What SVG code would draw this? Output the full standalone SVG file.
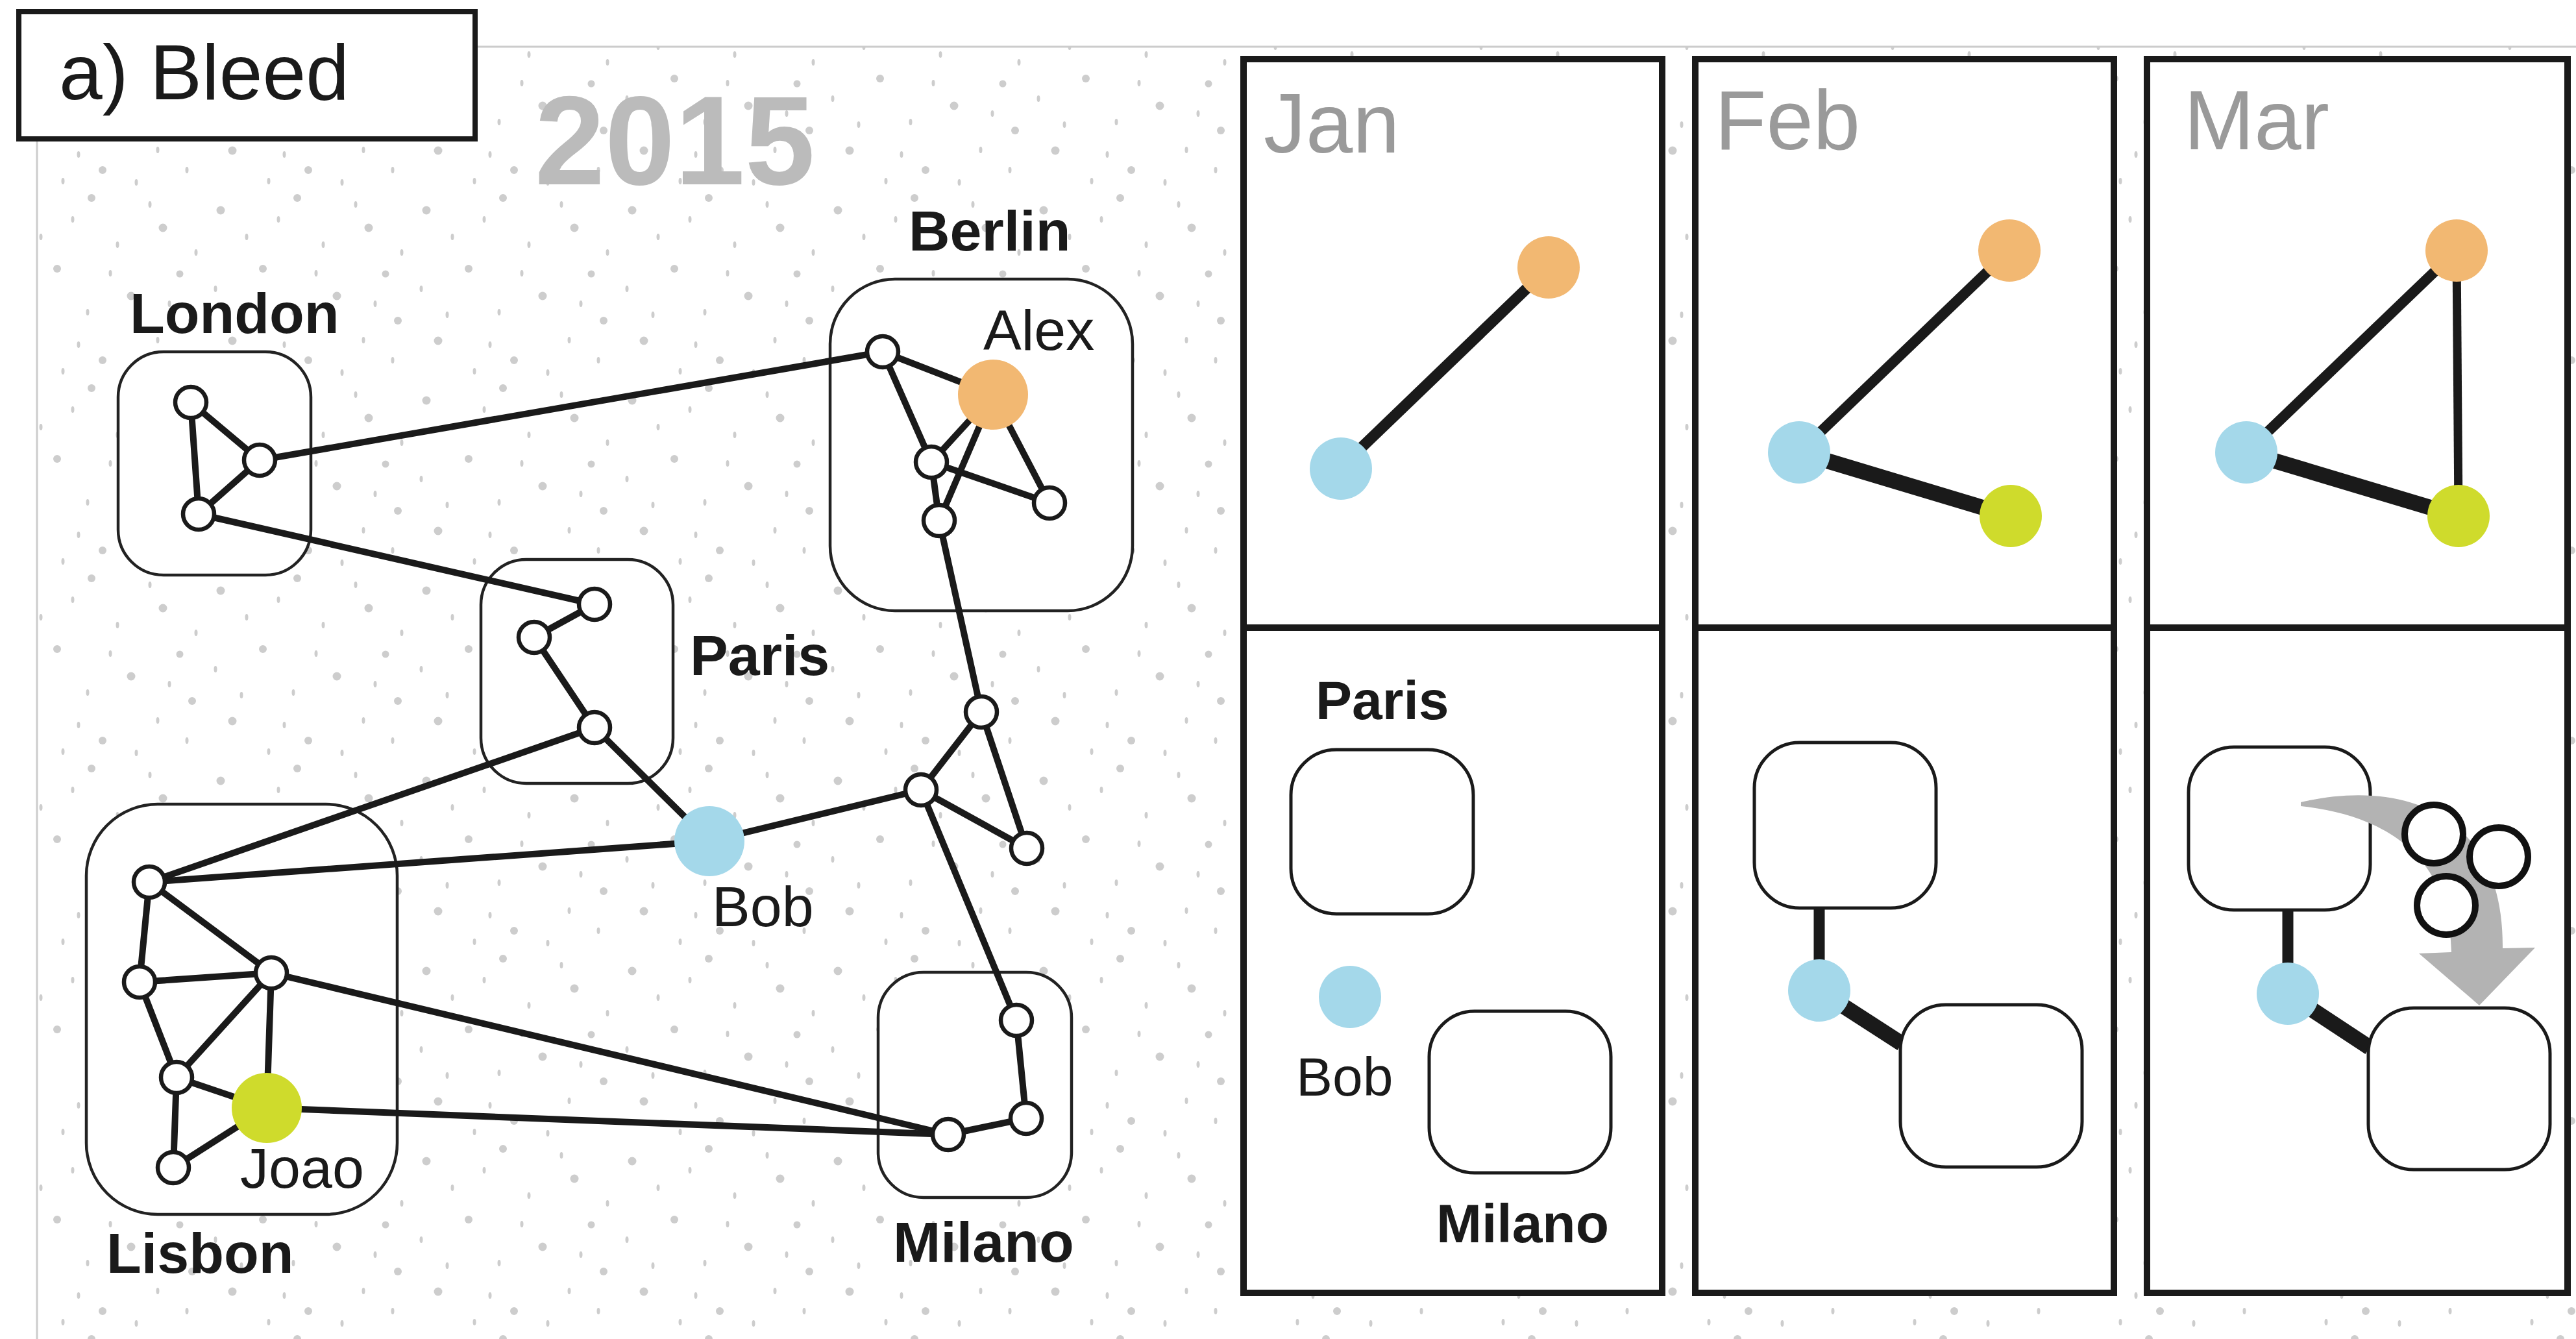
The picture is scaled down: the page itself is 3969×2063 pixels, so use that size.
<svg xmlns="http://www.w3.org/2000/svg" width="3969" height="2063" viewBox="0 0 3969 2063">
<defs>
<pattern id="dots" x="0" y="0" width="317" height="293" patternUnits="userSpaceOnUse">
<circle cx="23" cy="31" r="6.5"/><circle cx="141" cy="12" r="6"/><circle cx="251" cy="58" r="6.5"/>
<circle cx="88" cy="121" r="6"/><circle cx="202" cy="163" r="6.5"/><circle cx="296" cy="201" r="6"/>
<circle cx="41" cy="232" r="6.5"/><circle cx="158" cy="262" r="6"/><circle cx="277" cy="129" r="5.5"/>
<ellipse cx="63" cy="72" rx="2.5" ry="5"/><ellipse cx="181" cy="84" rx="2.5" ry="5"/><ellipse cx="112" cy="45" rx="2.5" ry="5"/>
<ellipse cx="231" cy="22" rx="2.5" ry="5"/><ellipse cx="302" cy="96" rx="2.5" ry="5"/><ellipse cx="15" cy="152" rx="2.5" ry="5"/>
<ellipse cx="135" cy="188" rx="2.5" ry="5"/><ellipse cx="243" cy="231" rx="2.5" ry="5"/><ellipse cx="97" cy="279" rx="2.5" ry="5"/>
<ellipse cx="210" cy="281" rx="2.5" ry="5"/><ellipse cx="55" cy="192" rx="2.5" ry="5"/><ellipse cx="170" cy="128" rx="2.5" ry="5"/>
<ellipse cx="288" cy="262" rx="2.5" ry="5"/><ellipse cx="121" cy="238" rx="2.5" ry="5"/><ellipse cx="261" cy="175" rx="2.5" ry="5"/>
</pattern>
<style>
#dots circle, #dots ellipse { fill: #cdcdcd; }
.lbl { font-family: "Liberation Sans", Arial, sans-serif; fill: #1a1a1a; }
.city { font-weight: bold; font-size: 88px; }
.name { font-size: 88px; }
.month { font-size: 130px; fill: #9a9a9a; }
.plbl { font-size: 84px; }
.cluster { fill: #ffffff; stroke: #222222; stroke-width: 4.5; }
.edge { stroke: #1a1a1a; stroke-width: 10; stroke-linecap: round; fill: none; }
.node { fill: #ffffff; stroke: #1a1a1a; stroke-width: 6.5; }
.alex { fill: #f2b872; }
.bob { fill: #a4d8ea; }
.joao { fill: #cfdb2c; }
.panel { fill: #ffffff; stroke: #1a1a1a; stroke-width: 10; }
.pedge { stroke: #1a1a1a; fill: none; }
.pbox { fill: #ffffff; stroke: #1a1a1a; stroke-width: 5; }
.ring { fill: #ffffff; stroke: #111111; stroke-width: 10; }
</style>
</defs>
<rect x="0" y="0" width="3969" height="2063" fill="#ffffff"/>
<rect x="57" y="72" width="3920" height="2000" fill="url(#dots)" stroke="#cccccc" stroke-width="3"/>

<g id="title">
<rect x="29" y="18" width="703" height="196" fill="#ffffff" stroke="#1a1a1a" stroke-width="8"/>
<text class="lbl" x="91" y="153" font-size="120">a) Bleed</text>
</g>
<text class="lbl" x="824" y="284" font-size="194" font-weight="bold" style="fill:#bbbbbb">2015</text>

<g id="clusters">
<g id="london"><rect class="cluster" x="182" y="542" width="297" height="344" rx="70"/><text class="lbl city" x="200" y="513">London</text></g>
<g id="berlin"><rect class="cluster" x="1279" y="430" width="466" height="511" rx="100"/><text class="lbl city" x="1400" y="386">Berlin</text></g>
<g id="paris"><rect class="cluster" x="741" y="862" width="296" height="345" rx="70"/><text class="lbl city" x="1063" y="1040">Paris</text></g>
<g id="lisbon"><rect class="cluster" x="133" y="1239" width="479" height="632" rx="110"/><text class="lbl city" x="164" y="1961">Lisbon</text></g>
<g id="milano"><rect class="cluster" x="1353" y="1498" width="298" height="347" rx="70"/><text class="lbl city" x="1376" y="1944">Milano</text></g>
</g>

<g id="connectors">
<line class="edge" x1="294" y1="620" x2="400" y2="709"/>
<line class="edge" x1="294" y1="620" x2="306" y2="792"/>
<line class="edge" x1="400" y1="709" x2="306" y2="792"/>
<line class="edge" x1="400" y1="709" x2="1360" y2="542"/>
<line class="edge" x1="306" y1="792" x2="916" y2="931"/>
<line class="edge" x1="1360" y1="542" x2="1530" y2="608"/>
<line class="edge" x1="1360" y1="542" x2="1435" y2="712"/>
<line class="edge" x1="1530" y1="608" x2="1435" y2="712"/>
<line class="edge" x1="1530" y1="608" x2="1447" y2="802"/>
<line class="edge" x1="1530" y1="608" x2="1617" y2="775"/>
<line class="edge" x1="1435" y1="712" x2="1617" y2="775"/>
<line class="edge" x1="1435" y1="712" x2="1447" y2="802"/>
<line class="edge" x1="1447" y1="802" x2="1512" y2="1097"/>
<line class="edge" x1="916" y1="931" x2="823" y2="982"/>
<line class="edge" x1="823" y1="982" x2="916" y2="1121"/>
<line class="edge" x1="916" y1="1121" x2="1093" y2="1296"/>
<line class="edge" x1="916" y1="1121" x2="230" y2="1359"/>
<line class="edge" x1="230" y1="1359" x2="1093" y2="1296"/>
<line class="edge" x1="1093" y1="1296" x2="1419" y2="1217"/>
<line class="edge" x1="1512" y1="1097" x2="1419" y2="1217"/>
<line class="edge" x1="1512" y1="1097" x2="1582" y2="1307"/>
<line class="edge" x1="1419" y1="1217" x2="1582" y2="1307"/>
<line class="edge" x1="1419" y1="1217" x2="1566" y2="1572"/>
<line class="edge" x1="1566" y1="1572" x2="1581" y2="1723"/>
<line class="edge" x1="1581" y1="1723" x2="1461" y2="1748"/>
<line class="edge" x1="1461" y1="1748" x2="418" y2="1499"/>
<line class="edge" x1="1461" y1="1748" x2="411" y2="1707"/>
<line class="edge" x1="230" y1="1359" x2="215" y2="1513"/>
<line class="edge" x1="230" y1="1359" x2="418" y2="1499"/>
<line class="edge" x1="215" y1="1513" x2="418" y2="1499"/>
<line class="edge" x1="215" y1="1513" x2="272" y2="1660"/>
<line class="edge" x1="418" y1="1499" x2="272" y2="1660"/>
<line class="edge" x1="418" y1="1499" x2="411" y2="1707"/>
<line class="edge" x1="272" y1="1660" x2="411" y2="1707"/>
<line class="edge" x1="272" y1="1660" x2="267" y2="1799"/>
<line class="edge" x1="267" y1="1799" x2="411" y2="1707"/>
</g>

<g id="nodes">
<g id="n-london-1"><circle class="node" cx="294" cy="620" r="24"/></g>
<g id="n-london-2"><circle class="node" cx="400" cy="709" r="24"/></g>
<g id="n-london-3"><circle class="node" cx="306" cy="792" r="24"/></g>
<g id="n-berlin-1"><circle class="node" cx="1360" cy="542" r="24"/></g>
<g id="n-alex"><circle class="alex" cx="1530" cy="608" r="54"/><text class="lbl name" x="1515" y="539">Alex</text></g>
<g id="n-berlin-2"><circle class="node" cx="1435" cy="712" r="24"/></g>
<g id="n-berlin-3"><circle class="node" cx="1617" cy="775" r="24"/></g>
<g id="n-berlin-4"><circle class="node" cx="1447" cy="802" r="24"/></g>
<g id="n-paris-1"><circle class="node" cx="916" cy="931" r="24"/></g>
<g id="n-paris-2"><circle class="node" cx="823" cy="982" r="24"/></g>
<g id="n-paris-3"><circle class="node" cx="916" cy="1121" r="24"/></g>
<g id="n-bob"><circle class="bob" cx="1093" cy="1296" r="54"/><text class="lbl name" x="1097" y="1427">Bob</text></g>
<g id="n-mid-1"><circle class="node" cx="1512" cy="1097" r="24"/></g>
<g id="n-mid-2"><circle class="node" cx="1419" cy="1217" r="24"/></g>
<g id="n-mid-3"><circle class="node" cx="1582" cy="1307" r="24"/></g>
<g id="n-milano-1"><circle class="node" cx="1566" cy="1572" r="24"/></g>
<g id="n-milano-2"><circle class="node" cx="1581" cy="1723" r="24"/></g>
<g id="n-milano-3"><circle class="node" cx="1461" cy="1748" r="24"/></g>
<g id="n-lisbon-1"><circle class="node" cx="230" cy="1359" r="24"/></g>
<g id="n-lisbon-2"><circle class="node" cx="215" cy="1513" r="24"/></g>
<g id="n-lisbon-3"><circle class="node" cx="418" cy="1499" r="24"/></g>
<g id="n-lisbon-4"><circle class="node" cx="272" cy="1660" r="24"/></g>
<g id="n-joao"><circle class="joao" cx="411" cy="1707" r="54"/><text class="lbl name" x="370" y="1830">Joao</text></g>
<g id="n-lisbon-5"><circle class="node" cx="267" cy="1799" r="24"/></g>
</g>

<g id="panel-jan">
<rect class="panel" x="1916" y="91" width="645" height="1901"/>
<line x1="1916" y1="967" x2="2561" y2="967" stroke="#1a1a1a" stroke-width="10"/>
<text class="lbl month" x="1947" y="235">Jan</text>
<line class="pedge" x1="2065" y1="721" x2="2386" y2="412" stroke-width="17"/>
<circle class="alex" cx="2386" cy="412" r="48"/>
<circle class="bob" cx="2066" cy="722" r="48"/>
<text class="lbl city plbl" x="2027" y="1108">Paris</text>
<rect class="pbox" x="1989" y="1155" width="281" height="253" rx="70"/>
<circle class="bob" cx="2080" cy="1536" r="48"/>
<text class="lbl name plbl" x="1997" y="1688">Bob</text>
<rect class="pbox" x="2202" y="1558" width="280" height="249" rx="70"/>
<text class="lbl city plbl" x="2213" y="1914">Milano</text>
</g>

<g id="panel-feb">
<rect class="panel" x="2612" y="91" width="645" height="1901"/>
<line x1="2612" y1="967" x2="3257" y2="967" stroke="#1a1a1a" stroke-width="10"/>
<text class="lbl month" x="2642" y="230">Feb</text>
<line class="pedge" x1="2772" y1="697" x2="3096" y2="386" stroke-width="16"/>
<line class="pedge" x1="2772" y1="697" x2="3098" y2="795" stroke-width="24"/>
<circle class="alex" cx="3096" cy="386" r="48"/>
<circle class="bob" cx="2772" cy="697" r="48"/>
<circle class="joao" cx="3098" cy="795" r="48"/>
<line class="pedge" x1="2803" y1="1399" x2="2803" y2="1526" stroke-width="17"/>
<line class="pedge" x1="2803" y1="1526" x2="2930" y2="1608" stroke-width="24"/>
<rect class="pbox" x="2703" y="1144" width="280" height="255" rx="70"/>
<rect class="pbox" x="2928" y="1548" width="280" height="250" rx="70"/>
<circle class="bob" cx="2803" cy="1526" r="48"/>
</g>

<g id="panel-mar">
<rect class="panel" x="3308" y="91" width="648" height="1901"/>
<line x1="3308" y1="967" x2="3956" y2="967" stroke="#1a1a1a" stroke-width="10"/>
<text class="lbl month" x="3365" y="230">Mar</text>
<line class="pedge" x1="3461" y1="697" x2="3785" y2="386" stroke-width="16"/>
<line class="pedge" x1="3461" y1="697" x2="3788" y2="795" stroke-width="24"/>
<line class="pedge" x1="3785" y1="386" x2="3788" y2="795" stroke-width="13"/>
<circle class="alex" cx="3785" cy="386" r="48"/>
<circle class="bob" cx="3461" cy="697" r="48"/>
<circle class="joao" cx="3788" cy="795" r="48"/>
<line class="pedge" x1="3525" y1="1402" x2="3525" y2="1531" stroke-width="17"/>
<line class="pedge" x1="3525" y1="1531" x2="3651" y2="1614" stroke-width="24"/>
<rect class="pbox" x="3372" y="1151" width="280" height="251" rx="70"/>
<rect class="pbox" x="3649" y="1553" width="280" height="249" rx="70"/>
<circle class="bob" cx="3525" cy="1531" r="48"/>
<path d="M3545,1236 C3700,1200 3858,1250 3856,1461 L3906,1460 L3820,1549 L3727,1469 L3777,1467 C3775,1330 3690,1258 3545,1242 Z" fill="#b3b3b3"/>
<circle class="ring" cx="3750" cy="1285" r="45"/>
<circle class="ring" cx="3850" cy="1320" r="45"/>
<circle class="ring" cx="3769" cy="1395" r="45"/>
</g>
</svg>
